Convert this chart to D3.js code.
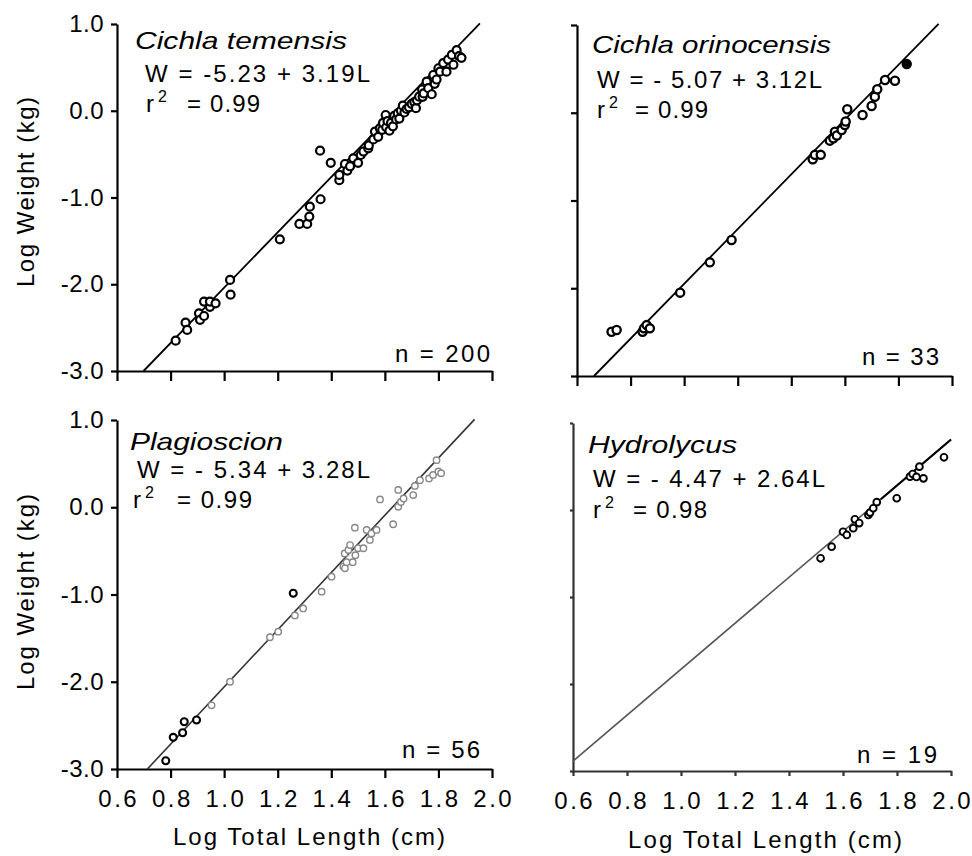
<!DOCTYPE html>
<html><head><meta charset="utf-8">
<script src="https://cdn.jsdelivr.net/npm/d3@7"></script>
<style>
body{margin:0;background:#fff;}
svg text{font-family:"Liberation Sans",Arial,Helvetica,sans-serif;fill:#000;}
</style></head><body>
<svg id="chart" width="972" height="856" xmlns="http://www.w3.org/2000/svg"></svg>
<script>
// ---------- DATA ----------
const species = ["Cichla  temensis", "Cichla  orinocensis", "Plagioscion", "Hydrolycus"];
const intercepts = [-5.23, -5.07, -5.34, -4.47];
const slopes = [3.19, 3.12, 3.28, 2.64];
const equationLabels = ["W = -5.23 + 3.19L", "W = - 5.07 + 3.12L", "W = - 5.34 + 3.28L", "W = - 4.47 + 2.64L"];
const r2Values = [0.99, 0.99, 0.99, 0.98];
const nValues = [200, 33, 56, 19];
const lineEndL = [1.955, 1.95, 1.935, 2.0];
const xTicks = [0.6, 0.8, 1.0, 1.2, 1.4, 1.6, 1.8, 2.0];
const yTicks = [1.0, 0.0, -1.0, -2.0, -3.0];
const xTitle = "Log Total Length (cm)";
const yTitle = "Log Weight (kg)";

const temensisPts = [[0.819,-2.651],[0.856,-2.443],[0.862,-2.527],[0.906,-2.335],[0.910,-2.41],[0.925,-2.366],[0.925,-2.20],[0.947,-2.26],[0.947,-2.20],[0.968,-2.22],[1.022,-1.95],[1.024,-2.12],[1.208,-1.482],[1.281,-1.305],[1.31,-1.305],[1.318,-1.22],[1.32,-1.106],[1.36,-1.02],[1.358,-0.46],[1.398,-0.60],[1.43,-0.80],[1.43,-0.74],[1.451,-0.614],[1.46,-0.69],[1.47,-0.64],[1.482,-0.548],[1.50,-0.60],[1.51,-0.51],[1.52,-0.47],[1.538,-0.433],[1.54,-0.40],[1.557,-0.33],[1.563,-0.24],[1.575,-0.30],[1.581,-0.203],[1.59,-0.22],[1.593,-0.14],[1.603,-0.049],[1.605,-0.19],[1.61,-0.12],[1.617,-0.23],[1.623,-0.14],[1.63,-0.18],[1.635,-0.06],[1.642,-0.10],[1.648,-0.03],[1.654,-0.09],[1.66,0.0],[1.667,0.059],[1.673,-0.02],[1.681,0.02],[1.69,0.04],[1.70,0.08],[1.71,0.10],[1.716,0.03],[1.72,0.12],[1.728,0.162],[1.739,0.247],[1.741,0.16],[1.745,0.20],[1.756,0.335],[1.762,0.26],[1.775,0.19],[1.781,0.412],[1.786,0.31],[1.793,0.36],[1.80,0.49],[1.806,0.45],[1.818,0.55],[1.83,0.45],[1.836,0.59],[1.85,0.643],[1.856,0.53],[1.868,0.70],[1.877,0.63],[1.886,0.61]];
const orinocensisPts = [[0.729,-2.495],[0.748,-2.476],[0.845,-2.495],[0.85,-2.457],[0.86,-2.42],[0.872,-2.457],[0.985,-2.05],[1.096,-1.705],[1.177,-1.45],[1.48,-0.53],[1.488,-0.48],[1.51,-0.48],[1.544,-0.318],[1.557,-0.29],[1.563,-0.216],[1.57,-0.26],[1.588,-0.197],[1.60,-0.14],[1.603,-0.10],[1.609,0.04],[1.666,-0.026],[1.70,0.077],[1.712,0.183],[1.721,0.267],[1.75,0.373],[1.787,0.365]];
const orinocensisFilled = [[1.831,0.556]];
const plagioscionDark = [[0.782,-2.905],[0.81,-2.637],[0.845,-2.584],[0.851,-2.458],[0.897,-2.438],[1.258,-0.986]];
const plagioscionFaint = [[0.953,-2.27],[1.022,-2.0],[1.171,-1.49],[1.202,-1.426],[1.264,-1.24],[1.295,-1.16],[1.364,-0.968],[1.401,-0.796],[1.445,-0.68],[1.45,-0.53],[1.451,-0.70],[1.457,-0.63],[1.464,-0.49],[1.47,-0.433],[1.48,-0.63],[1.49,-0.55],[1.50,-0.47],[1.52,-0.47],[1.532,-0.26],[1.544,-0.375],[1.55,-0.30],[1.569,-0.26],[1.582,0.09],[1.488,-0.234],[1.631,-0.195],[1.65,0.006],[1.66,0.06],[1.65,0.198],[1.67,0.10],[1.706,0.14],[1.712,0.244],[1.731,0.31],[1.765,0.33],[1.78,0.37],[1.793,0.54],[1.80,0.41],[1.81,0.39]];
const hydrolycusPts = [[1.517,-0.555],[1.558,-0.422],[1.60,-0.25],[1.614,-0.287],[1.638,-0.21],[1.644,-0.107],[1.66,-0.15],[1.694,-0.057],[1.70,-0.03],[1.712,0.02],[1.725,0.09],[1.799,0.135],[1.848,0.383],[1.858,0.414],[1.872,0.38],[1.883,0.498],[1.898,0.364],[1.974,0.606]];

// ---------- LAYOUT ----------
const FONT = 24;
const panels = [
  {x0:117,x1:492,yT:24,yB:371, yLabels:true, xLabels:false, xTick:10, yTick:6, axisColor:"#000", lineColor:"#000", lineW:1.8,
   pts:[{d:temensisPts,r:4,sw:2.2,stroke:"#000",fill:"#fff"}],
   title:[135,49,212], eq:[145,82,225], r:[146,112], req:[187,73], n:[395,362,95], ylab:[34,192,190]},
  {x0:577,x1:952,yT:25,yB:376, yLabels:false, xLabels:false, xTick:10, yTick:6, axisColor:"#000", lineColor:"#000", lineW:1.8,
   pts:[{d:orinocensisPts,r:4.1,sw:2.3,stroke:"#000",fill:"#fff"},{d:orinocensisFilled,r:4.1,sw:2.2,stroke:"#000",fill:"#000"}],
   title:[592,53,239], eq:[597,88,225], r:[597,118], req:[635,73], n:[862,365,77]},
  {x0:117,x1:492,yT:420,yB:769, yLabels:true, xLabels:true, xTick:9, yTick:6, axisColor:"#000", lineColor:"#333", lineW:1.6,
   pts:[{d:plagioscionFaint,r:3.2,sw:1.4,stroke:"#888",fill:"#fff"},{d:plagioscionDark,r:3.5,sw:2.1,stroke:"#000",fill:"#fff"}],
   title:[130,450,153], eq:[137,478,233], r:[133,508], req:[177,75], n:[402,758,78], xlab:[309,845,272], ylab:[34,592,196]},
  {x0:573,x1:951,yT:423,yB:771, yLabels:false, xLabels:true, xTick:5, yTick:3, axisColor:"#333", lineColor:"#555", lineW:1.6,
   pts:[{d:hydrolycusPts,r:3.4,sw:1.9,stroke:"#000",fill:"#fff"}],
   title:[588,453,149], eq:[593,487,232], r:[593,518], req:[633,74], n:[857,763,80], xlab:[765,848,274]}
];

const svg = d3.select("#chart");

panels.forEach((p, i) => {
  const x = d3.scaleLinear().domain([0.6, 2.0]).range([p.x0, p.x1]);
  const y = d3.scaleLinear().domain([-3.0, 1.0]).range([p.yB, p.yT]);
  const g = svg.append("g");

  // y axis
  const ya = g.append("g").attr("transform", `translate(${p.x0},0)`)
    .call(d3.axisLeft(y).tickValues(yTicks).tickSize(p.yTick).tickSizeOuter(0).tickPadding(7)
      .tickFormat(p.yLabels ? (d => d.toFixed(1)) : () => ""));
  ya.select(".domain").attr("stroke", p.axisColor).attr("stroke-width", 2.2);
  ya.selectAll(".tick line").attr("stroke", p.axisColor).attr("stroke-width", 2.2);
  ya.selectAll(".tick text").attr("font-size", FONT).attr("letter-spacing", 0.5).attr("fill", "#000")
    .style("font-family", '"Liberation Sans",Arial,sans-serif');

  // x axis
  const xa = g.append("g").attr("transform", `translate(0,${p.yB})`)
    .call(d3.axisBottom(x).tickValues(xTicks).tickSize(p.xTick).tickSizeOuter(0).tickPadding(21 - p.xTick)
      .tickFormat(p.xLabels ? (d => d.toFixed(1)) : () => ""));
  xa.select(".domain").attr("stroke", p.axisColor).attr("stroke-width", 2.2);
  xa.selectAll(".tick line").attr("stroke", p.axisColor).attr("stroke-width", 2.2);
  xa.selectAll(".tick text").attr("font-size", FONT).attr("letter-spacing", 2.5).attr("dx", 1.25).attr("fill", "#000")
    .style("font-family", '"Liberation Sans",Arial,sans-serif');

  // regression line
  const a = intercepts[i], b = slopes[i];
  const Ls = Math.max(0.6, (-3 - a) / b);
  const Le = lineEndL[i];
  const line = d3.line().x(d => x(d[0])).y(d => y(d[1]));
  g.append("path").attr("d", line([[Ls, a + b * Ls], [Le, a + b * Le]]))
    .attr("fill", "none").attr("stroke", p.lineColor).attr("stroke-width", p.lineW);
  if (i === 3) {
    const Lk = 1.74;
    g.append("path").attr("d", line([[Lk, a + b * Lk], [Le, a + b * Le]]))
      .attr("fill", "none").attr("stroke", "#000").attr("stroke-width", 2.2);
  }

  // points
  p.pts.forEach(s => {
    g.append("g").selectAll("circle").data(s.d).join("circle")
      .attr("cx", d => x(d[0])).attr("cy", d => y(d[1])).attr("r", s.r)
      .attr("fill", s.fill).attr("stroke", s.stroke).attr("stroke-width", s.sw);
  });

  // annotations
  g.append("text").attr("x", p.title[0]).attr("y", p.title[1]).attr("font-size", FONT)
    .attr("font-style", "italic").attr("textLength", p.title[2]).attr("lengthAdjust", "spacingAndGlyphs")
    .text(species[i].replace(/  /g, " "));
  g.append("text").attr("x", p.eq[0]).attr("y", p.eq[1]).attr("font-size", FONT)
    .attr("textLength", p.eq[2]).attr("lengthAdjust", "spacing").text(equationLabels[i]);
  const rt = g.append("text").attr("x", p.r[0]).attr("y", p.r[1]).attr("font-size", FONT);
  rt.append("tspan").text("r");
  rt.append("tspan").attr("dx", 4).attr("dy", -10).attr("font-size", 16).text("2");
  g.append("text").attr("x", p.req[0]).attr("y", p.r[1]).attr("font-size", FONT)
    .attr("textLength", p.req[1]).attr("lengthAdjust", "spacing").text("= " + r2Values[i].toFixed(2));
  g.append("text").attr("x", p.n[0]).attr("y", p.n[1]).attr("font-size", FONT)
    .attr("textLength", p.n[2]).attr("lengthAdjust", "spacing").text("n = " + nValues[i]);

  if (p.xlab) {
    g.append("text").attr("x", p.xlab[0] - p.xlab[2] / 2).attr("y", p.xlab[1]).attr("font-size", FONT)
      .attr("textLength", p.xlab[2]).attr("lengthAdjust", "spacing").text(xTitle);
  }
  if (p.ylab) {
    g.append("text").attr("transform", `translate(${p.ylab[0]},${p.ylab[1] + p.ylab[2] / 2}) rotate(-90)`)
      .attr("font-size", FONT).attr("textLength", p.ylab[2]).attr("lengthAdjust", "spacing").text(yTitle);
  }
});
</script>
</body></html>
